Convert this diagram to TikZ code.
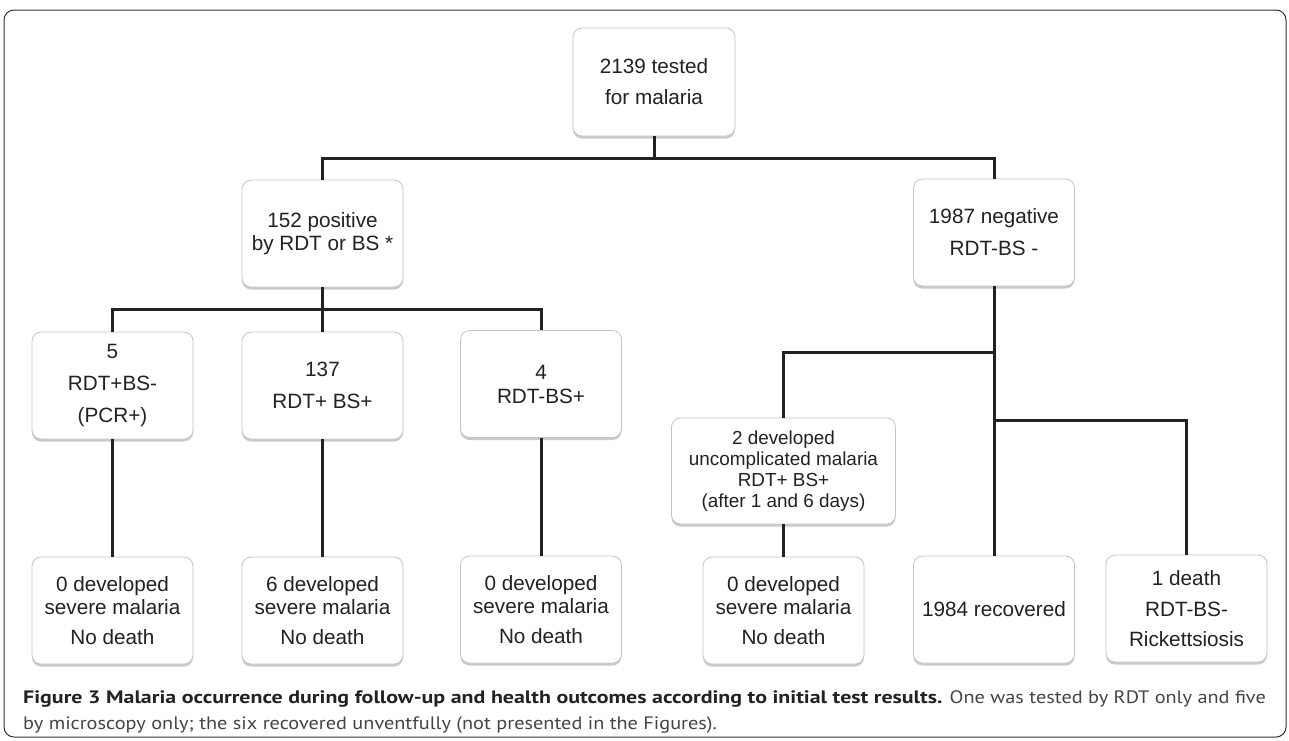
\documentclass[tikz,border=0pt]{standalone}
\usepackage{fontspec}
\setmainfont{Liberation Sans}
\newfontfamily\capfont{PT Sans}[FakeStretch=1.127, BoldFeatures={FakeStretch=1.218}]
\usetikzlibrary{shadows}
\definecolor{boxline}{HTML}{C4C4C4}
\definecolor{ink}{HTML}{222222}
\definecolor{captext}{HTML}{444444}
\tikzset{
  box/.style={draw=boxline, line width=0.8pt, rounded corners=9pt, fill=white,
    drop shadow={shadow xshift=0pt, shadow yshift=-2.5pt, opacity=0.35, fill=black!60},
    minimum width=161pt, minimum height=107pt, align=center, text=ink, inner sep=2pt,
    font=\fontsize{20.7}{23}\selectfont},
  link/.style={draw=ink, line width=3pt},
  captxt/.style={anchor=base west, inner sep=0pt, text=captext,
    font=\capfont\fontsize{18}{26}\selectfont},
}

\begin{document}
\begin{tikzpicture}[x=1pt, y=1pt]
    \useasboundingbox (0,0) rectangle (1289,-740);
    \draw[line width=1pt, black!80, rounded corners=10pt] (4,-10) rectangle (1286,-737);

    \node[box, minimum width=162pt, minimum height=108pt] (top) at (654,-82) {2139 tested\\[8pt]for malaria};
    \node[box] (pos) at (322.5,-233.5) {152 positive\\by RDT or BS *};
    \node[box] (neg) at (994,-232.5) {1987 negative\\[9pt]RDT-BS -};

    \node[box] (p5) at (112.5,-385.5) {5\\[9pt]RDT+BS-\\[9pt](PCR+)};
    \node[box] (p137) at (322.5,-385.5) {137\\[9pt]RDT+ BS+};
    \node[box] (p4) at (541,-384) {4\\[1pt]RDT-BS+};
    \node[box, minimum width=224pt, minimum height=106pt, font=\fontsize{18.9}{21}\selectfont] (unc) at (783.5,-471) {2 developed\\uncomplicated malaria\\RDT+ BS+\\(after 1 and 6 days)};

    \node[box] (out5) at (112.5,-610.5) {0 developed\\severe malaria\\[7pt]No death};
    \node[box] (out137) at (322.5,-610.5) {6 developed\\severe malaria\\[7pt]No death};
    \node[box] (out4) at (541,-609.5) {0 developed\\severe malaria\\[7pt]No death};
    \node[box] (outunc) at (783.5,-610.5) {0 developed\\severe malaria\\[7pt]No death};
    \node[box] (rec) at (994,-609.5) {1984 recovered};
    \node[box] (death) at (1186.5,-608.5) {1 death\\[8pt]RDT-BS-\\[7pt]Rickettsiosis};

    \coordinate (bus0) at (654,-158);
    \coordinate (bus1) at (322.5,-309);
    \coordinate (split1) at (994,-352);
    \coordinate (split2) at (994,-420);

    \draw[link] (top.south) -- (bus0);
    \draw[link] (pos.north) |- (neg.north |- bus0) -- (neg.north);
    \draw[link] (pos.south) -- (p137.north);
    \draw[link] (p5.north) |- (p4.north |- bus1) -- (p4.north);

    \draw[link] (p5.south) -- (out5.north);
    \draw[link] (p137.south) -- (out137.north);
    \draw[link] (p4.south) -- (out4.north);

    \draw[link] (neg.south) -- (rec.north);
    \draw[link] (split1) -| (unc.north);
    \draw[link] (split2) -| (death.north);
    \draw[link] (unc.south) -- (outunc.north);

    \node[captxt] (cap1) at (23,-703) {\textbf{\color{ink}Figure 3 Malaria occurrence during follow-up and health outcomes according to initial test results.} One was tested by RDT only and five};
    \node[captxt] (cap2) at (23,-729) {by microscopy only; the six recovered unventfully (not presented in the Figures).};
\end{tikzpicture}
\end{document}
